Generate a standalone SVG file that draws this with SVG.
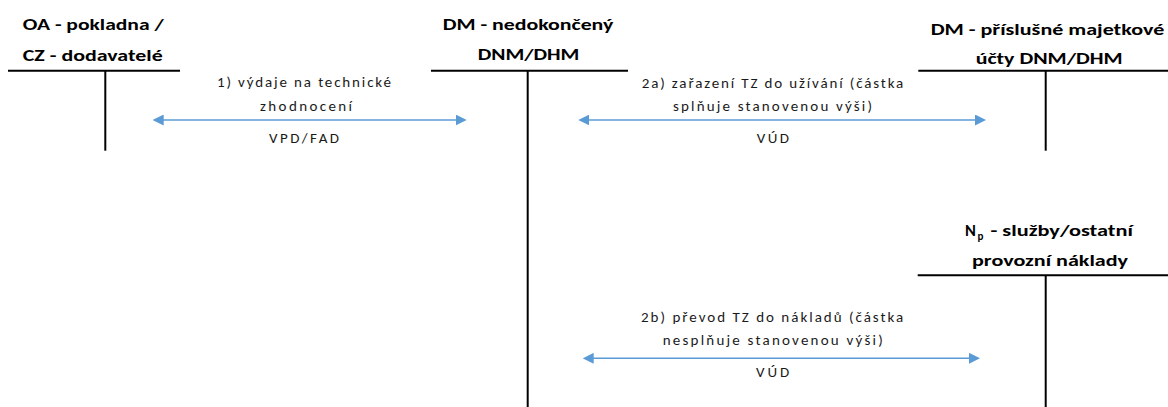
<svg xmlns="http://www.w3.org/2000/svg" width="1168" height="407" viewBox="0 0 1168 407">
  <defs>
    <style>
      .title { font-family: Carlito, Lato, "Liberation Sans", sans-serif; font-weight: bold; font-size: 16.5px; fill: #000; }
      .label { font-family: Carlito, Lato, "Liberation Sans", sans-serif; font-size: 15px; fill: #1a1a1a; }
      .tline { stroke: #000; stroke-width: 2; fill: none; }
      .flow { stroke: #5B9BD5; stroke-width: 1.6; fill: none; marker-start: url(#head); marker-end: url(#head); }
    </style>
    <marker id="head" markerUnits="userSpaceOnUse" markerWidth="11" markerHeight="11" refX="3" refY="5.5" orient="auto-start-reverse">
      <path d="M0,0 L11,5.5 L0,11 z" fill="#5B9BD5"/>
    </marker>
  </defs>

  <!-- T-account: cash / suppliers -->
  <g id="acct-oa-cz">
    <text class="title" x="22.7" y="30" textLength="141" lengthAdjust="spacingAndGlyphs">OA - pokladna /</text>
    <text class="title" x="22.7" y="61" textLength="140" lengthAdjust="spacingAndGlyphs">CZ - dodavatelé</text>
    <line class="tline" x1="8" y1="70.8" x2="180" y2="70.8"/>
    <line class="tline" x1="105.3" y1="70.8" x2="105.3" y2="150.7"/>
  </g>

  <!-- T-account: unfinished assets -->
  <g id="acct-dm-nedokonceny">
    <text class="title" x="442.7" y="29.5" textLength="170.6" lengthAdjust="spacingAndGlyphs">DM - nedokončený</text>
    <text class="title" x="477.7" y="60" textLength="101.6" lengthAdjust="spacingAndGlyphs">DNM/DHM</text>
    <line class="tline" x1="431" y1="70.8" x2="628" y2="70.8"/>
    <line class="tline" x1="527.7" y1="70.8" x2="527.7" y2="407"/>
  </g>

  <!-- T-account: asset accounts -->
  <g id="acct-dm-majetkove">
    <text class="title" x="930.7" y="35" textLength="233.6" lengthAdjust="spacingAndGlyphs">DM - příslušné majetkové</text>
    <text class="title" x="975.7" y="64" textLength="147" lengthAdjust="spacingAndGlyphs">účty DNM/DHM</text>
    <line class="tline" x1="918.3" y1="70.8" x2="1168" y2="70.8"/>
    <line class="tline" x1="1045.7" y1="70.8" x2="1045.7" y2="150.7"/>
  </g>

  <!-- T-account: operating costs -->
  <g id="acct-np-naklady">
    <text class="title" y="236"><tspan x="965">N</tspan><tspan x="977.4" dy="4" font-size="11">p</tspan><tspan x="990.5" dy="-4" textLength="142.5" lengthAdjust="spacingAndGlyphs">- služby/ostatní</tspan></text>
    <text class="title" x="972" y="265.7" textLength="156" lengthAdjust="spacingAndGlyphs">provozní náklady</text>
    <line class="tline" x1="917.7" y1="275.2" x2="1168" y2="275.2"/>
    <line class="tline" x1="1045.7" y1="275.2" x2="1045.7" y2="407"/>
  </g>

  <!-- Posting connectors -->
  <g id="connectors">
    <line class="flow" x1="160.7" y1="120" x2="458.7" y2="120"/>
    <line class="flow" x1="586.3" y1="120" x2="978" y2="120"/>
    <line class="flow" x1="590.7" y1="358.3" x2="972" y2="358.3"/>
  </g>

  <!-- Connector labels -->
  <g id="labels">
    <text class="label" x="217" y="87" textLength="174" lengthAdjust="spacing">1) výdaje na technické</text>
    <text class="label" x="260" y="110.5" textLength="92" lengthAdjust="spacing">zhodnocení</text>
    <text class="label" x="269" y="143" textLength="70" lengthAdjust="spacing">VPD/FAD</text>

    <text class="label" x="641.7" y="88" textLength="261.6" lengthAdjust="spacing">2a) zařazení TZ do užívání (částka</text>
    <text class="label" x="673" y="110.5" textLength="199" lengthAdjust="spacing">splňuje stanovenou výši)</text>
    <text class="label" x="756.7" y="143" textLength="32.3" lengthAdjust="spacing">VÚD</text>

    <text class="label" x="641" y="322.3" textLength="262.3" lengthAdjust="spacing">2b) převod TZ do nákladů (částka</text>
    <text class="label" x="662.7" y="345" textLength="220" lengthAdjust="spacing">nesplňuje stanovenou výši)</text>
    <text class="label" x="756" y="377.3" textLength="33.3" lengthAdjust="spacing">VÚD</text>
  </g>
</svg>
